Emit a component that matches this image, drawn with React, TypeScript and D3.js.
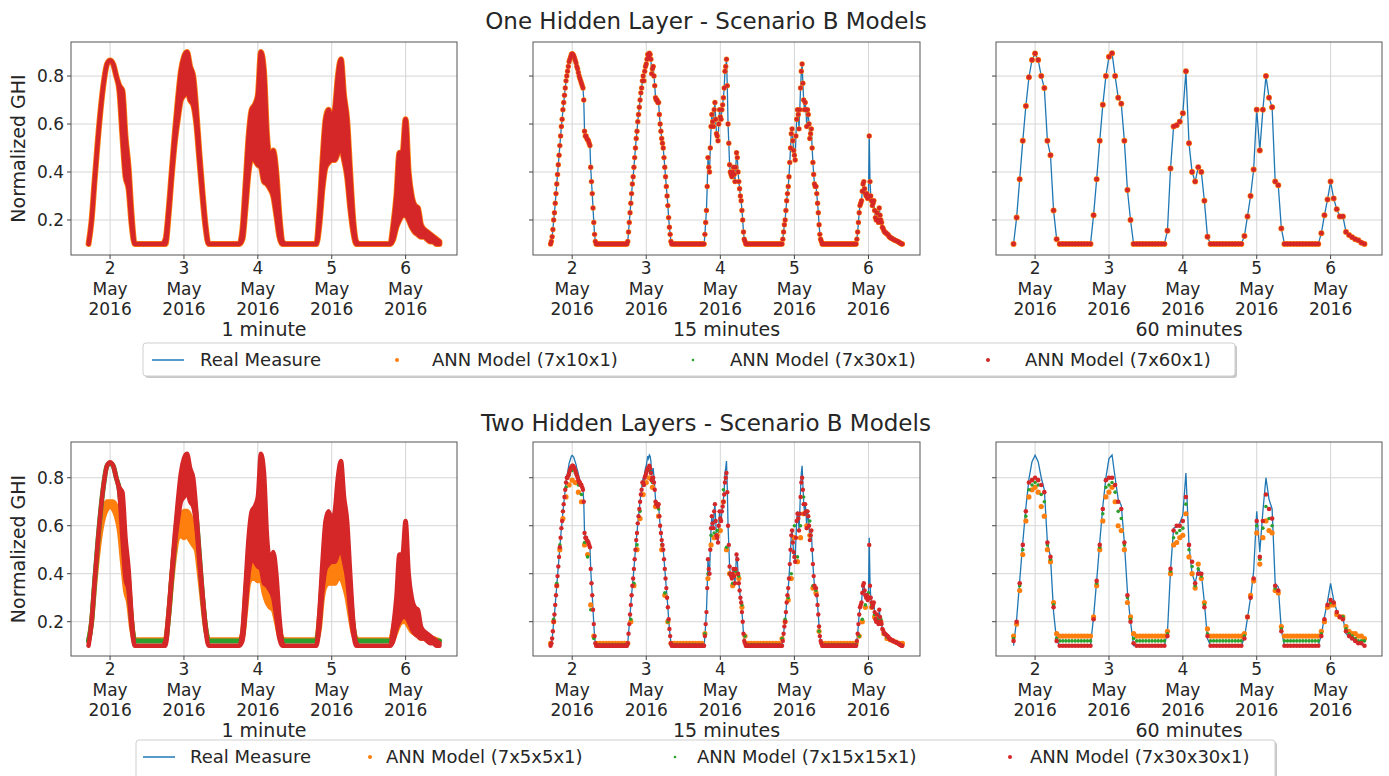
import React from 'react'
import * as d3 from 'd3'

// series start: 1 May 2016 17:00, quarter-hour and hourly samples
const seriesStart = new Date(2016, 4, 1, 17, 0)
const tickDays = [2, 3, 4, 5, 6]
const yTicks = [0.2, 0.4, 0.6, 0.8]
const xLabels = ['1 minute', '15 minutes', '60 minutes']
const rowTitles = ['One Hidden Layer - Scenario B Models', 'Two Hidden Layers - Scenario B Models']
const legendTop = ['Real Measure', 'ANN Model (7x10x1)', 'ANN Model (7x30x1)', 'ANN Model (7x60x1)']
const legendBottom = ['Real Measure', 'ANN Model (7x5x5x1)', 'ANN Model (7x15x15x1)', 'ANN Model (7x30x30x1)']

// Real measure, 60 minute samples
const real60 = [
  0.10, 0.21, 0.37, 0.53, 0.675, 0.795, 0.867, 0.894, 0.867, 0.80, 0.75, 0.53, 0.47, 0.24, 0.12, 0.10,
  0.1, 0.1, 0.1, 0.1, 0.1, 0.1, 0.1, 0.1, 0.1, 0.1,
  0.22, 0.37, 0.53, 0.68, 0.80, 0.88, 0.895, 0.80, 0.71, 0.685, 0.53, 0.325, 0.20, 0.10,
  0.1, 0.1, 0.1, 0.1, 0.1, 0.1, 0.1, 0.1, 0.1, 0.1,
  0.155, 0.415, 0.59, 0.595, 0.61, 0.645, 0.82, 0.52, 0.40, 0.36, 0.42, 0.40, 0.28, 0.13, 0.10,
  0.1, 0.1, 0.1, 0.1, 0.1, 0.1, 0.1, 0.1, 0.1, 0.1,
  0.133, 0.215, 0.30, 0.41, 0.66, 0.49, 0.66, 0.80, 0.71, 0.67, 0.36, 0.345, 0.165, 0.10,
  0.1, 0.1, 0.1, 0.1, 0.1, 0.1, 0.1, 0.1, 0.1, 0.1, 0.1,
  0.145, 0.22, 0.285, 0.36, 0.29, 0.245, 0.215, 0.215, 0.15, 0.137, 0.128, 0.12, 0.115, 0.105, 0.10,
]

// Real measure, 15 minute samples
const real15 = [
  0.10, 0.11, 0.13, 0.16, 0.20, 0.23, 0.27, 0.31, 0.35, 0.39,
  0.43, 0.47, 0.51, 0.55, 0.59, 0.62, 0.66, 0.69, 0.72, 0.75,
  0.78, 0.80, 0.82, 0.84, 0.86, 0.87, 0.88, 0.89, 0.893, 0.89,
  0.885, 0.875, 0.865, 0.855, 0.84, 0.83, 0.815, 0.80, 0.79, 0.78,
  0.77, 0.76, 0.75, 0.70, 0.57, 0.55, 0.55, 0.54, 0.535, 0.53,
  0.52, 0.51, 0.42, 0.36, 0.31, 0.25, 0.19, 0.14, 0.11, 0.10,
  0.1, 0.1, 0.1, 0.1, 0.1, 0.1, 0.1, 0.1, 0.1, 0.1,
  0.1, 0.1, 0.1, 0.1, 0.1, 0.1, 0.1, 0.1, 0.1, 0.1,
  0.1, 0.1, 0.1, 0.1, 0.1, 0.1, 0.1, 0.1, 0.1, 0.1,
  0.1, 0.1, 0.1, 0.1, 0.1, 0.1, 0.1, 0.1, 0.1, 0.1,
  0.11, 0.15, 0.19, 0.23, 0.27, 0.31, 0.35, 0.38, 0.42, 0.46,
  0.50, 0.54, 0.57, 0.61, 0.64, 0.67, 0.70, 0.73, 0.75, 0.78,
  0.80, 0.78, 0.82, 0.84, 0.85, 0.87, 0.89, 0.88, 0.895, 0.89,
  0.87, 0.81, 0.83, 0.84, 0.80, 0.76, 0.71, 0.70, 0.70, 0.69,
  0.69, 0.64, 0.60, 0.57, 0.54, 0.52, 0.50, 0.46, 0.42, 0.38,
  0.34, 0.30, 0.26, 0.21, 0.17, 0.14, 0.11, 0.10, 0.10, 0.10,
  0.1, 0.1, 0.1, 0.1, 0.1, 0.1, 0.1, 0.1, 0.1, 0.1,
  0.1, 0.1, 0.1, 0.1, 0.1, 0.1, 0.1, 0.1, 0.1, 0.1,
  0.1, 0.1, 0.1, 0.1, 0.1, 0.1, 0.1, 0.1, 0.1, 0.1,
  0.1, 0.1, 0.1, 0.1, 0.1, 0.1, 0.1, 0.1, 0.1, 0.1,
  0.14, 0.19, 0.24, 0.34, 0.46, 0.42, 0.40, 0.50, 0.59, 0.64,
  0.61, 0.59, 0.66, 0.69, 0.62, 0.56, 0.55, 0.53, 0.60, 0.66,
  0.63, 0.62, 0.66, 0.68, 0.71, 0.75, 0.82, 0.84, 0.87, 0.76,
  0.60, 0.52, 0.43, 0.40, 0.39, 0.38, 0.40, 0.42, 0.39, 0.36,
  0.42, 0.48, 0.46, 0.40, 0.36, 0.33, 0.30, 0.28, 0.24, 0.20,
  0.15, 0.12, 0.11, 0.10, 0.10, 0.10,
  0.1, 0.1, 0.1, 0.1, 0.1, 0.1, 0.1, 0.1, 0.1, 0.1,
  0.1, 0.1, 0.1, 0.1, 0.1, 0.1, 0.1, 0.1, 0.1, 0.1,
  0.1, 0.1, 0.1, 0.1, 0.1, 0.1, 0.1, 0.1, 0.1, 0.1,
  0.1, 0.1, 0.1, 0.1, 0.1, 0.1, 0.1, 0.1, 0.1, 0.1,
  0.1, 0.1, 0.1, 0.1,
  0.10, 0.12, 0.15, 0.18, 0.20, 0.24, 0.28, 0.31, 0.34, 0.38,
  0.44, 0.50, 0.56, 0.58, 0.53, 0.49, 0.47, 0.45, 0.55, 0.62,
  0.66, 0.64, 0.58, 0.66, 0.75, 0.82, 0.85, 0.77, 0.70, 0.66,
  0.69, 0.66, 0.59, 0.66, 0.64, 0.60, 0.54, 0.56, 0.58, 0.50,
  0.44, 0.39, 0.35, 0.34, 0.34, 0.31, 0.27, 0.23, 0.18, 0.14,
  0.12, 0.11, 0.10, 0.10, 0.10, 0.10,
  0.1, 0.1, 0.1, 0.1, 0.1, 0.1, 0.1, 0.1, 0.1, 0.1,
  0.1, 0.1, 0.1, 0.1, 0.1, 0.1, 0.1, 0.1, 0.1, 0.1,
  0.1, 0.1, 0.1, 0.1, 0.1, 0.1, 0.1, 0.1, 0.1, 0.1,
  0.1, 0.1, 0.1, 0.1, 0.1, 0.1, 0.1, 0.1, 0.1, 0.1,
  0.1,
  0.12, 0.15, 0.19, 0.23, 0.26, 0.27, 0.28, 0.32, 0.35, 0.36,
  0.33, 0.31, 0.30, 0.31, 0.29, 0.30, 0.55, 0.36, 0.30, 0.28,
  0.26, 0.27, 0.28, 0.24, 0.21, 0.20, 0.23, 0.20, 0.19, 0.25,
  0.22, 0.20, 0.19, 0.17, 0.165, 0.155, 0.15, 0.148, 0.145, 0.142,
  0.14, 0.135, 0.13, 0.128, 0.125, 0.124, 0.122, 0.12, 0.118, 0.116,
  0.115, 0.113, 0.112, 0.11, 0.108, 0.106, 0.104, 0.102, 0.10, 0.10,
]

// 1 minute cloud, hourly low / high envelope
const min1Lo = [
  0.10, 0.20, 0.37, 0.53, 0.67, 0.78, 0.85, 0.865, 0.85, 0.80, 0.74, 0.55, 0.38, 0.33, 0.18, 0.10,
  0.1, 0.1, 0.1, 0.1, 0.1, 0.1, 0.1, 0.1, 0.1, 0.10,
  0.22, 0.38, 0.52, 0.62, 0.70, 0.72, 0.74, 0.70, 0.68, 0.60, 0.45, 0.30, 0.17, 0.10,
  0.1, 0.1, 0.1, 0.1, 0.1, 0.1, 0.1, 0.1, 0.1, 0.1,
  0.12, 0.25, 0.40, 0.46, 0.45, 0.43, 0.42, 0.36, 0.35, 0.33, 0.30, 0.22, 0.13, 0.10, 0.10,
  0.1, 0.1, 0.1, 0.1, 0.1, 0.1, 0.1, 0.1, 0.1, 0.1,
  0.18, 0.33, 0.42, 0.44, 0.45, 0.45, 0.48, 0.50, 0.45, 0.38, 0.25, 0.15, 0.10, 0.10,
  0.1, 0.1, 0.1, 0.1, 0.1, 0.1, 0.1, 0.1, 0.1, 0.1,
  0.12, 0.17, 0.20, 0.22, 0.22, 0.20, 0.17, 0.15, 0.14, 0.13, 0.13, 0.12, 0.11, 0.11, 0.10, 0.10,
]
const min1Hi = [
  0.10, 0.20, 0.37, 0.53, 0.67, 0.78, 0.85, 0.865, 0.85, 0.80, 0.76, 0.74, 0.55, 0.42, 0.22, 0.10,
  0.1, 0.1, 0.1, 0.1, 0.1, 0.1, 0.1, 0.1, 0.1, 0.12,
  0.24, 0.40, 0.56, 0.70, 0.82, 0.88, 0.90, 0.84, 0.80, 0.66, 0.48, 0.32, 0.18, 0.10,
  0.1, 0.1, 0.1, 0.1, 0.1, 0.1, 0.1, 0.1, 0.1, 0.1,
  0.16, 0.35, 0.55, 0.66, 0.68, 0.72, 0.90, 0.82, 0.55, 0.45, 0.49, 0.40, 0.22, 0.11, 0.10,
  0.1, 0.1, 0.1, 0.1, 0.1, 0.1, 0.1, 0.1, 0.1, 0.1,
  0.24, 0.45, 0.62, 0.66, 0.62, 0.66, 0.80, 0.87, 0.72, 0.62, 0.40, 0.20, 0.11, 0.10,
  0.1, 0.1, 0.1, 0.1, 0.1, 0.1, 0.1, 0.1, 0.1, 0.1,
  0.18, 0.30, 0.48, 0.48, 0.62, 0.40, 0.30, 0.26, 0.25, 0.18, 0.16, 0.15, 0.14, 0.13, 0.12, 0.11,
]

// Two hidden layers, 1 minute: ANN (7x5x5x1) envelope and ANN (7x15x15x1)
const orange1Lo = [
  0.12, 0.20, 0.35, 0.48, 0.58, 0.64, 0.67, 0.68, 0.67, 0.64, 0.58, 0.45, 0.33, 0.28, 0.17, 0.125,
  0.125, 0.125, 0.125, 0.125, 0.125, 0.125, 0.125, 0.125, 0.125, 0.125,
  0.22, 0.36, 0.48, 0.55, 0.56, 0.55, 0.56, 0.54, 0.52, 0.50, 0.40, 0.28, 0.17, 0.125,
  0.125, 0.125, 0.125, 0.125, 0.125, 0.125, 0.125, 0.125, 0.125, 0.125,
  0.13, 0.24, 0.36, 0.38, 0.38, 0.37, 0.38, 0.32, 0.28, 0.26, 0.25, 0.20, 0.14, 0.125, 0.125,
  0.125, 0.125, 0.125, 0.125, 0.125, 0.125, 0.125, 0.125, 0.125, 0.125,
  0.17, 0.30, 0.35, 0.36, 0.36, 0.36, 0.38, 0.38, 0.35, 0.30, 0.22, 0.15, 0.125, 0.125,
  0.125, 0.125, 0.125, 0.125, 0.125, 0.125, 0.125, 0.125, 0.125, 0.125,
  0.13, 0.16, 0.19, 0.20, 0.20, 0.18, 0.16, 0.15, 0.14, 0.13, 0.13, 0.125, 0.12, 0.12, 0.12, 0.12,
]
const orange1Hi = [
  0.12, 0.20, 0.36, 0.50, 0.60, 0.67, 0.70, 0.70, 0.70, 0.68, 0.64, 0.58, 0.48, 0.38, 0.20, 0.125,
  0.125, 0.125, 0.125, 0.125, 0.125, 0.125, 0.125, 0.125, 0.125, 0.13,
  0.23, 0.38, 0.52, 0.60, 0.64, 0.66, 0.66, 0.64, 0.60, 0.56, 0.44, 0.30, 0.18, 0.125,
  0.125, 0.125, 0.125, 0.125, 0.125, 0.125, 0.125, 0.125, 0.125, 0.125,
  0.15, 0.32, 0.46, 0.50, 0.50, 0.50, 0.60, 0.50, 0.38, 0.34, 0.36, 0.30, 0.18, 0.13, 0.125,
  0.125, 0.125, 0.125, 0.125, 0.125, 0.125, 0.125, 0.125, 0.125, 0.125,
  0.22, 0.38, 0.44, 0.46, 0.44, 0.46, 0.52, 0.52, 0.46, 0.42, 0.30, 0.18, 0.13, 0.125,
  0.125, 0.125, 0.125, 0.125, 0.125, 0.125, 0.125, 0.125, 0.125, 0.125,
  0.17, 0.24, 0.30, 0.32, 0.36, 0.28, 0.22, 0.20, 0.18, 0.16, 0.15, 0.14, 0.13, 0.13, 0.125, 0.12,
]
const green1 = [
  0.12, 0.20, 0.37, 0.53, 0.67, 0.78, 0.85, 0.86, 0.85, 0.80, 0.75, 0.62, 0.46, 0.36, 0.20, 0.12,
  0.12, 0.12, 0.12, 0.12, 0.12, 0.12, 0.12, 0.12, 0.12, 0.12,
  0.22, 0.38, 0.53, 0.66, 0.76, 0.82, 0.84, 0.80, 0.74, 0.64, 0.48, 0.31, 0.18, 0.12,
  0.12, 0.12, 0.12, 0.12, 0.12, 0.12, 0.12, 0.12, 0.12, 0.12,
  0.14, 0.30, 0.48, 0.56, 0.56, 0.58, 0.70, 0.60, 0.45, 0.38, 0.40, 0.32, 0.18, 0.12, 0.12,
  0.12, 0.12, 0.12, 0.12, 0.12, 0.12, 0.12, 0.12, 0.12, 0.12,
  0.20, 0.38, 0.52, 0.55, 0.54, 0.55, 0.66, 0.70, 0.58, 0.50, 0.33, 0.18, 0.12, 0.12,
  0.12, 0.12, 0.12, 0.12, 0.12, 0.12, 0.12, 0.12, 0.12, 0.12,
  0.14, 0.22, 0.32, 0.34, 0.42, 0.30, 0.24, 0.20, 0.19, 0.16, 0.15, 0.14, 0.13, 0.125, 0.12, 0.12,
]

// Two hidden layers, 15 minutes: ANN (7x30x30x1) per quarter hour
const red15b = [
  0.10, 0.11, 0.13, 0.16, 0.20, 0.23, 0.27, 0.31, 0.35, 0.39,
  0.43, 0.47, 0.51, 0.55, 0.59, 0.62, 0.66, 0.69, 0.72, 0.75,
  0.78, 0.80, 0.80, 0.81, 0.82, 0.83, 0.84, 0.845, 0.85, 0.85,
  0.845, 0.84, 0.83, 0.82, 0.81, 0.80, 0.79, 0.78, 0.78, 0.77,
  0.77, 0.76, 0.75, 0.70, 0.57, 0.55, 0.55, 0.54, 0.535, 0.53,
  0.52, 0.51, 0.42, 0.36, 0.31, 0.25, 0.19, 0.14, 0.11, 0.10,
  0.1, 0.1, 0.1, 0.1, 0.1, 0.1, 0.1, 0.1, 0.1, 0.1,
  0.1, 0.1, 0.1, 0.1, 0.1, 0.1, 0.1, 0.1, 0.1, 0.1,
  0.1, 0.1, 0.1, 0.1, 0.1, 0.1, 0.1, 0.1, 0.1, 0.1,
  0.1, 0.1, 0.1, 0.1, 0.1, 0.1, 0.1, 0.1, 0.1, 0.1,
  0.11, 0.15, 0.19, 0.23, 0.27, 0.31, 0.35, 0.38, 0.42, 0.46,
  0.50, 0.54, 0.57, 0.61, 0.64, 0.67, 0.70, 0.73, 0.75, 0.78,
  0.78, 0.77, 0.80, 0.81, 0.82, 0.83, 0.84, 0.84, 0.85, 0.84,
  0.82, 0.79, 0.80, 0.80, 0.78, 0.75, 0.70, 0.69, 0.69, 0.68,
  0.69, 0.64, 0.60, 0.57, 0.54, 0.52, 0.50, 0.46, 0.42, 0.38,
  0.34, 0.30, 0.26, 0.21, 0.17, 0.14, 0.11, 0.10, 0.10, 0.10,
  0.1, 0.1, 0.1, 0.1, 0.1, 0.1, 0.1, 0.1, 0.1, 0.1,
  0.1, 0.1, 0.1, 0.1, 0.1, 0.1, 0.1, 0.1, 0.1, 0.1,
  0.1, 0.1, 0.1, 0.1, 0.1, 0.1, 0.1, 0.1, 0.1, 0.1,
  0.1, 0.1, 0.1, 0.1, 0.1, 0.1, 0.1, 0.1, 0.1, 0.1,
  0.14, 0.19, 0.24, 0.34, 0.46, 0.42, 0.40, 0.50, 0.59, 0.64,
  0.61, 0.59, 0.66, 0.69, 0.62, 0.56, 0.55, 0.53, 0.60, 0.66,
  0.63, 0.62, 0.66, 0.68, 0.70, 0.73, 0.78, 0.80, 0.82, 0.74,
  0.60, 0.52, 0.43, 0.40, 0.39, 0.38, 0.40, 0.42, 0.39, 0.36,
  0.42, 0.48, 0.46, 0.40, 0.36, 0.33, 0.30, 0.28, 0.24, 0.20,
  0.15, 0.12, 0.11, 0.10, 0.10, 0.10,
  0.1, 0.1, 0.1, 0.1, 0.1, 0.1, 0.1, 0.1, 0.1, 0.1,
  0.1, 0.1, 0.1, 0.1, 0.1, 0.1, 0.1, 0.1, 0.1, 0.1,
  0.1, 0.1, 0.1, 0.1, 0.1, 0.1, 0.1, 0.1, 0.1, 0.1,
  0.1, 0.1, 0.1, 0.1, 0.1, 0.1, 0.1, 0.1, 0.1, 0.1,
  0.1, 0.1, 0.1, 0.1,
  0.10, 0.12, 0.15, 0.18, 0.20, 0.24, 0.28, 0.31, 0.34, 0.38,
  0.44, 0.50, 0.56, 0.58, 0.53, 0.49, 0.47, 0.45, 0.55, 0.62,
  0.65, 0.63, 0.58, 0.65, 0.72, 0.78, 0.80, 0.75, 0.69, 0.65,
  0.69, 0.66, 0.59, 0.66, 0.64, 0.60, 0.54, 0.56, 0.58, 0.50,
  0.44, 0.39, 0.35, 0.34, 0.34, 0.31, 0.27, 0.23, 0.18, 0.14,
  0.12, 0.11, 0.10, 0.10, 0.10, 0.10,
  0.1, 0.1, 0.1, 0.1, 0.1, 0.1, 0.1, 0.1, 0.1, 0.1,
  0.1, 0.1, 0.1, 0.1, 0.1, 0.1, 0.1, 0.1, 0.1, 0.1,
  0.1, 0.1, 0.1, 0.1, 0.1, 0.1, 0.1, 0.1, 0.1, 0.1,
  0.1, 0.1, 0.1, 0.1, 0.1, 0.1, 0.1, 0.1, 0.1, 0.1,
  0.1,
  0.12, 0.15, 0.19, 0.23, 0.26, 0.27, 0.28, 0.32, 0.35, 0.36,
  0.33, 0.31, 0.30, 0.31, 0.29, 0.30, 0.52, 0.35, 0.30, 0.28,
  0.26, 0.27, 0.28, 0.24, 0.21, 0.20, 0.23, 0.20, 0.19, 0.25,
  0.22, 0.20, 0.19, 0.17, 0.165, 0.155, 0.15, 0.148, 0.145, 0.142,
  0.14, 0.135, 0.13, 0.128, 0.125, 0.124, 0.122, 0.12, 0.118, 0.116,
  0.115, 0.113, 0.112, 0.11, 0.108, 0.106, 0.104, 0.102, 0.10, 0.10,
]

// Two hidden layers, 15 minutes: hourly readings of the other two models
const orange15b = [
  0.11, 0.20, 0.35, 0.50, 0.63, 0.72, 0.77, 0.79, 0.78, 0.74, 0.70, 0.52, 0.48, 0.27, 0.14, 0.11,
  0.11, 0.11, 0.11, 0.11, 0.11, 0.11, 0.11, 0.11, 0.11, 0.11,
  0.20, 0.35, 0.50, 0.63, 0.73, 0.78, 0.80, 0.76, 0.68, 0.64, 0.50, 0.31, 0.20, 0.11,
  0.11, 0.11, 0.11, 0.11, 0.11, 0.11, 0.11, 0.11, 0.11, 0.11,
  0.15, 0.38, 0.52, 0.55, 0.56, 0.58, 0.70, 0.50, 0.40, 0.35, 0.40, 0.38, 0.26, 0.14, 0.11,
  0.11, 0.11, 0.11, 0.11, 0.11, 0.11, 0.11, 0.11, 0.11, 0.11,
  0.13, 0.20, 0.29, 0.38, 0.55, 0.45, 0.55, 0.65, 0.60, 0.56, 0.34, 0.32, 0.16, 0.11,
  0.11, 0.11, 0.11, 0.11, 0.11, 0.11, 0.11, 0.11, 0.11, 0.11, 0.11,
  0.14, 0.20, 0.26, 0.30, 0.26, 0.22, 0.20, 0.20, 0.15, 0.13, 0.125, 0.12, 0.115, 0.11, 0.11,
]
const green15b = [
  0.105, 0.21, 0.36, 0.52, 0.66, 0.76, 0.81, 0.83, 0.82, 0.77, 0.73, 0.53, 0.47, 0.25, 0.13, 0.105,
  0.105, 0.105, 0.105, 0.105, 0.105, 0.105, 0.105, 0.105, 0.105, 0.105,
  0.21, 0.36, 0.52, 0.66, 0.77, 0.82, 0.83, 0.78, 0.70, 0.67, 0.52, 0.32, 0.20, 0.105,
  0.105, 0.105, 0.105, 0.105, 0.105, 0.105, 0.105, 0.105, 0.105, 0.105,
  0.15, 0.40, 0.56, 0.57, 0.58, 0.62, 0.75, 0.51, 0.40, 0.36, 0.41, 0.39, 0.27, 0.14, 0.105,
  0.105, 0.105, 0.105, 0.105, 0.105, 0.105, 0.105, 0.105, 0.105, 0.105,
  0.13, 0.21, 0.30, 0.40, 0.60, 0.47, 0.60, 0.72, 0.66, 0.62, 0.35, 0.33, 0.16, 0.105,
  0.105, 0.105, 0.105, 0.105, 0.105, 0.105, 0.105, 0.105, 0.105, 0.105, 0.105,
  0.14, 0.21, 0.27, 0.32, 0.27, 0.23, 0.21, 0.21, 0.15, 0.135, 0.125, 0.12, 0.112, 0.105, 0.10,
]

// Two hidden layers, 60 minutes
const orange60b = [
  0.14, 0.19, 0.33, 0.48, 0.62, 0.72, 0.75, 0.76, 0.74, 0.68, 0.64, 0.50, 0.45, 0.28, 0.15, 0.14,
  0.14, 0.14, 0.14, 0.14, 0.14, 0.14, 0.14, 0.14, 0.14, 0.14,
  0.22, 0.35, 0.50, 0.62, 0.72, 0.74, 0.76, 0.70, 0.60, 0.58, 0.50, 0.28, 0.22, 0.15,
  0.14, 0.14, 0.14, 0.14, 0.14, 0.14, 0.14, 0.14, 0.14, 0.14,
  0.16, 0.40, 0.52, 0.53, 0.55, 0.56, 0.65, 0.47, 0.40, 0.34, 0.44, 0.38, 0.28, 0.17, 0.14,
  0.14, 0.14, 0.14, 0.14, 0.14, 0.14, 0.14, 0.14, 0.14, 0.14,
  0.15, 0.22, 0.31, 0.37, 0.57, 0.44, 0.55, 0.62, 0.58, 0.57, 0.33, 0.32, 0.18, 0.14,
  0.14, 0.14, 0.14, 0.14, 0.14, 0.14, 0.14, 0.14, 0.14, 0.14, 0.14,
  0.16, 0.20, 0.26, 0.27, 0.27, 0.23, 0.22, 0.22, 0.18, 0.16, 0.15, 0.15, 0.14, 0.14, 0.13,
]
const green60b = [
  0.13, 0.20, 0.35, 0.50, 0.64, 0.75, 0.77, 0.78, 0.77, 0.73, 0.70, 0.52, 0.46, 0.27, 0.13, 0.12,
  0.12, 0.12, 0.12, 0.12, 0.12, 0.12, 0.12, 0.12, 0.12, 0.12,
  0.21, 0.36, 0.51, 0.65, 0.76, 0.77, 0.78, 0.74, 0.66, 0.63, 0.52, 0.30, 0.21, 0.13,
  0.12, 0.12, 0.12, 0.12, 0.12, 0.12, 0.12, 0.12, 0.12, 0.12,
  0.15, 0.41, 0.55, 0.57, 0.58, 0.59, 0.69, 0.50, 0.43, 0.35, 0.42, 0.39, 0.27, 0.15, 0.12,
  0.12, 0.12, 0.12, 0.12, 0.12, 0.12, 0.12, 0.12, 0.12, 0.12,
  0.14, 0.22, 0.30, 0.38, 0.60, 0.46, 0.59, 0.68, 0.63, 0.60, 0.34, 0.33, 0.17, 0.12,
  0.12, 0.12, 0.12, 0.12, 0.12, 0.12, 0.12, 0.12, 0.12, 0.12, 0.12,
  0.15, 0.21, 0.27, 0.28, 0.28, 0.24, 0.22, 0.22, 0.17, 0.15, 0.14, 0.13, 0.12, 0.12, 0.12,
]
const red60b = [
  0.12, 0.20, 0.36, 0.52, 0.66, 0.78, 0.79, 0.80, 0.79, 0.77, 0.74, 0.53, 0.47, 0.26, 0.12, 0.10,
  0.1, 0.1, 0.1, 0.1, 0.1, 0.1, 0.1, 0.1, 0.1, 0.1,
  0.21, 0.37, 0.52, 0.67, 0.79, 0.80, 0.80, 0.77, 0.70, 0.67, 0.53, 0.31, 0.20, 0.11,
  0.1, 0.1, 0.1, 0.1, 0.1, 0.1, 0.1, 0.1, 0.1, 0.1,
  0.14, 0.42, 0.58, 0.60, 0.60, 0.62, 0.72, 0.52, 0.45, 0.36, 0.40, 0.40, 0.26, 0.14, 0.10,
  0.1, 0.1, 0.1, 0.1, 0.1, 0.1, 0.1, 0.1, 0.1, 0.1,
  0.13, 0.22, 0.30, 0.38, 0.62, 0.47, 0.62, 0.73, 0.67, 0.63, 0.35, 0.33, 0.16, 0.10,
  0.1, 0.1, 0.1, 0.1, 0.1, 0.1, 0.1, 0.1, 0.1, 0.1, 0.1,
  0.14, 0.21, 0.27, 0.29, 0.28, 0.24, 0.22, 0.21, 0.16, 0.14, 0.13, 0.12, 0.11, 0.11, 0.10,
]

const BLUE = '#1f77b4'
const ORANGE = '#ff7f0e'
const GREEN = '#2ca02c'
const RED = '#d62728'
const FONT = 'DejaVu Sans, sans-serif'
const HOUR = 3600 * 1000

const colX = [[71, 457], [533, 920], [996, 1382]]
const rowY = [[42, 255], [442, 656]]
const yDomains = [[0.054, 0.942], [0.057, 0.949]]

type Layer =
  | { kind: 'line'; values: number[]; step: number; color: string; width: number }
  | { kind: 'dots'; values: number[]; step: number; color: string; r: number }
  | { kind: 'band'; lo: number[]; hi: number[]; step: number; color: string; width: number }
  | { kind: 'thick'; values: number[]; step: number; color: string; width: number }

const at = (step: number, i: number) => new Date(seriesStart.getTime() + i * step * 60000)

function Panel({ row, col, layers }: { row: number; col: number; layers: Layer[] }) {
  const [x0, x1] = colX[col]
  const [y0, y1] = rowY[row]
  const x = d3.scaleTime()
    .domain([new Date(seriesStart.getTime() - 5.7 * HOUR), new Date(seriesStart.getTime() + 119.7 * HOUR)])
    .range([x0, x1])
  const y = d3.scaleLinear().domain(yDomains[row]).range([y1, y0])
  const ticks = tickDays.map(d => new Date(2016, 4, d))
  const fmtDay = d3.timeFormat('%-d')
  const fmtMon = d3.timeFormat('%b')
  const fmtYear = d3.timeFormat('%Y')
  const clipId = `clip-${row}-${col}`

  const marks = layers.map((l, k) => {
    if (l.kind === 'line') {
      const path = d3.line<number>().x((v, i) => x(at(l.step, i))).y(v => y(v))
      return <path key={k} d={path(l.values) || ''} fill="none" stroke={l.color} strokeWidth={l.width} />
    }
    if (l.kind === 'thick') {
      const path = d3.line<number>().x((v, i) => x(at(l.step, i))).y(v => y(v)).curve(d3.curveMonotoneX)
      return <path key={k} d={path(l.values) || ''} fill="none" stroke={l.color} strokeWidth={l.width}
        strokeLinejoin="round" strokeLinecap="round" />
    }
    if (l.kind === 'band') {
      const area = d3.area<number>()
        .x((v, i) => x(at(l.step, i)))
        .y0((v, i) => y(l.lo[i]))
        .y1((v, i) => y(l.hi[i]))
        .curve(d3.curveMonotoneX)
      return <path key={k} d={area(l.lo) || ''} fill={l.color} stroke={l.color} strokeWidth={l.width}
        strokeLinejoin="round" strokeLinecap="round" />
    }
    return (
      <g key={k} fill={l.color}>
        {l.values.map((v, i) => <circle key={i} cx={x(at(l.step, i))} cy={y(v)} r={l.r} />)}
      </g>
    )
  })

  return (
    <g>
      <defs>
        <clipPath id={clipId}><rect x={x0} y={y0} width={x1 - x0} height={y1 - y0} /></clipPath>
      </defs>
      <rect x={x0} y={y0} width={x1 - x0} height={y1 - y0} fill="#fff" />
      <g stroke="#d6d6d6" strokeWidth={1}>
        {ticks.map((t, i) => <line key={i} x1={x(t)} x2={x(t)} y1={y0} y2={y1} />)}
        {yTicks.map((v, i) => <line key={i} x1={x0} x2={x1} y1={y(v)} y2={y(v)} />)}
      </g>
      <g clipPath={`url(#${clipId})`}>{marks}</g>
      <rect x={x0} y={y0} width={x1 - x0} height={y1 - y0} fill="none" stroke="#555" strokeWidth={1} />
      <g stroke="#444" strokeWidth={1}>
        {ticks.map((t, i) => <line key={i} x1={x(t)} x2={x(t)} y1={y1} y2={y1 + 4} />)}
        {yTicks.map((v, i) => <line key={i} x1={x0 - 4} x2={x0} y1={y(v)} y2={y(v)} />)}
      </g>
      <g fontFamily={FONT} fontSize={17} fill="#262626" textAnchor="middle">
        {ticks.map((t, i) => (
          <g key={i}>
            <text x={x(t)} y={y1 + 19}>{fmtDay(t)}</text>
            <text x={x(t)} y={y1 + 40}>{fmtMon(t)}</text>
            <text x={x(t)} y={y1 + 60}>{fmtYear(t)}</text>
          </g>
        ))}
      </g>
      <text x={(x0 + x1) / 2} y={y1 + 81} fontFamily={FONT} fontSize={19} fill="#262626" textAnchor="middle">
        {xLabels[col]}
      </text>
      {col === 0 && (
        <g fontFamily={FONT} fill="#262626">
          {yTicks.map((v, i) => (
            <text key={i} x={x0 - 7} y={y(v) + 6} fontSize={17} textAnchor="end">{v.toFixed(1)}</text>
          ))}
          <text transform={`translate(25,${(y0 + y1) / 2}) rotate(-90)`} fontSize={19} textAnchor="middle">
            Normalized GHI
          </text>
        </g>
      )}
    </g>
  )
}

function Legend({ labels, box, marks }: { labels: string[]; box: number[]; marks: { sx: number; tx: number }[] }) {
  const [bx, by, bw, bh] = box
  const cy = by + 17
  const colors = [BLUE, ORANGE, GREEN, RED]
  return (
    <g fontFamily={FONT} fontSize={18} fill="#262626">
      <rect x={bx + 2} y={by + 2} width={bw} height={bh} rx={3} fill="#c8c8c8" />
      <rect x={bx} y={by} width={bw} height={bh} rx={3} fill="#fff" stroke="#cfcfcf" />
      {labels.map((lab, i) => (
        <g key={i}>
          {i === 0
            ? <line x1={marks[i].sx} x2={marks[i].sx + 32} y1={cy} y2={cy} stroke={colors[i]} strokeWidth={1.5} />
            : <circle cx={marks[i].sx} cy={cy} r={i === 2 ? 1.3 : 2} fill={colors[i]} />}
          <text x={marks[i].tx} y={cy + 6}>{lab}</text>
        </g>
      ))}
    </g>
  )
}

export default function App() {
  const topPanels: Layer[][] = [
    [
      { kind: 'band', lo: min1Lo, hi: min1Hi, step: 60, color: ORANGE, width: 6 },
      { kind: 'band', lo: min1Lo, hi: min1Hi, step: 60, color: RED, width: 4.5 },
    ],
    [
      { kind: 'line', values: real15, step: 15, color: BLUE, width: 1.3 },
      { kind: 'dots', values: real15, step: 15, color: ORANGE, r: 2.7 },
      { kind: 'dots', values: real15, step: 15, color: GREEN, r: 1.6 },
      { kind: 'dots', values: real15, step: 15, color: RED, r: 2.2 },
    ],
    [
      { kind: 'line', values: real60, step: 60, color: BLUE, width: 1.3 },
      { kind: 'dots', values: real60, step: 60, color: ORANGE, r: 3 },
      { kind: 'dots', values: real60, step: 60, color: GREEN, r: 1.8 },
      { kind: 'dots', values: real60, step: 60, color: RED, r: 2.4 },
    ],
  ]
  const bottomPanels: Layer[][] = [
    [
      { kind: 'band', lo: orange1Lo, hi: orange1Hi, step: 60, color: ORANGE, width: 5 },
      { kind: 'thick', values: green1, step: 60, color: GREEN, width: 5 },
      { kind: 'band', lo: min1Lo, hi: min1Hi, step: 60, color: RED, width: 4.5 },
    ],
    [
      { kind: 'line', values: real15, step: 15, color: BLUE, width: 1.3 },
      { kind: 'dots', values: orange15b, step: 60, color: ORANGE, r: 2.6 },
      { kind: 'dots', values: green15b, step: 60, color: GREEN, r: 1.8 },
      { kind: 'dots', values: red15b, step: 15, color: RED, r: 2.2 },
    ],
    [
      { kind: 'line', values: real60, step: 60, color: BLUE, width: 1.3 },
      { kind: 'dots', values: orange60b, step: 60, color: ORANGE, r: 2.6 },
      { kind: 'dots', values: green60b, step: 60, color: GREEN, r: 1.8 },
      { kind: 'dots', values: red60b, step: 60, color: RED, r: 2.3 },
    ],
  ]

  return (
    <svg width={1389} height={776} style={{ position: 'absolute', left: 0, top: 0, background: '#fff' }}>
      <text x={706} y={29} fontFamily={FONT} fontSize={23} fill="#262626" textAnchor="middle">{rowTitles[0]}</text>
      <text x={706} y={431} fontFamily={FONT} fontSize={23} fill="#262626" textAnchor="middle">{rowTitles[1]}</text>
      {topPanels.map((layers, c) => <Panel key={`t${c}`} row={0} col={c} layers={layers} />)}
      {bottomPanels.map((layers, c) => <Panel key={`b${c}`} row={1} col={c} layers={layers} />)}
      <Legend labels={legendTop} box={[143, 343, 1092, 33]}
        marks={[{ sx: 152, tx: 200 }, { sx: 397, tx: 432 }, { sx: 693, tx: 730 }, { sx: 988, tx: 1025 }]} />
      <Legend labels={legendBottom} box={[136, 740, 1139, 40]}
        marks={[{ sx: 143, tx: 190 }, { sx: 370, tx: 386 }, { sx: 675, tx: 697 }, { sx: 1010, tx: 1030 }]} />
    </svg>
  )
}
